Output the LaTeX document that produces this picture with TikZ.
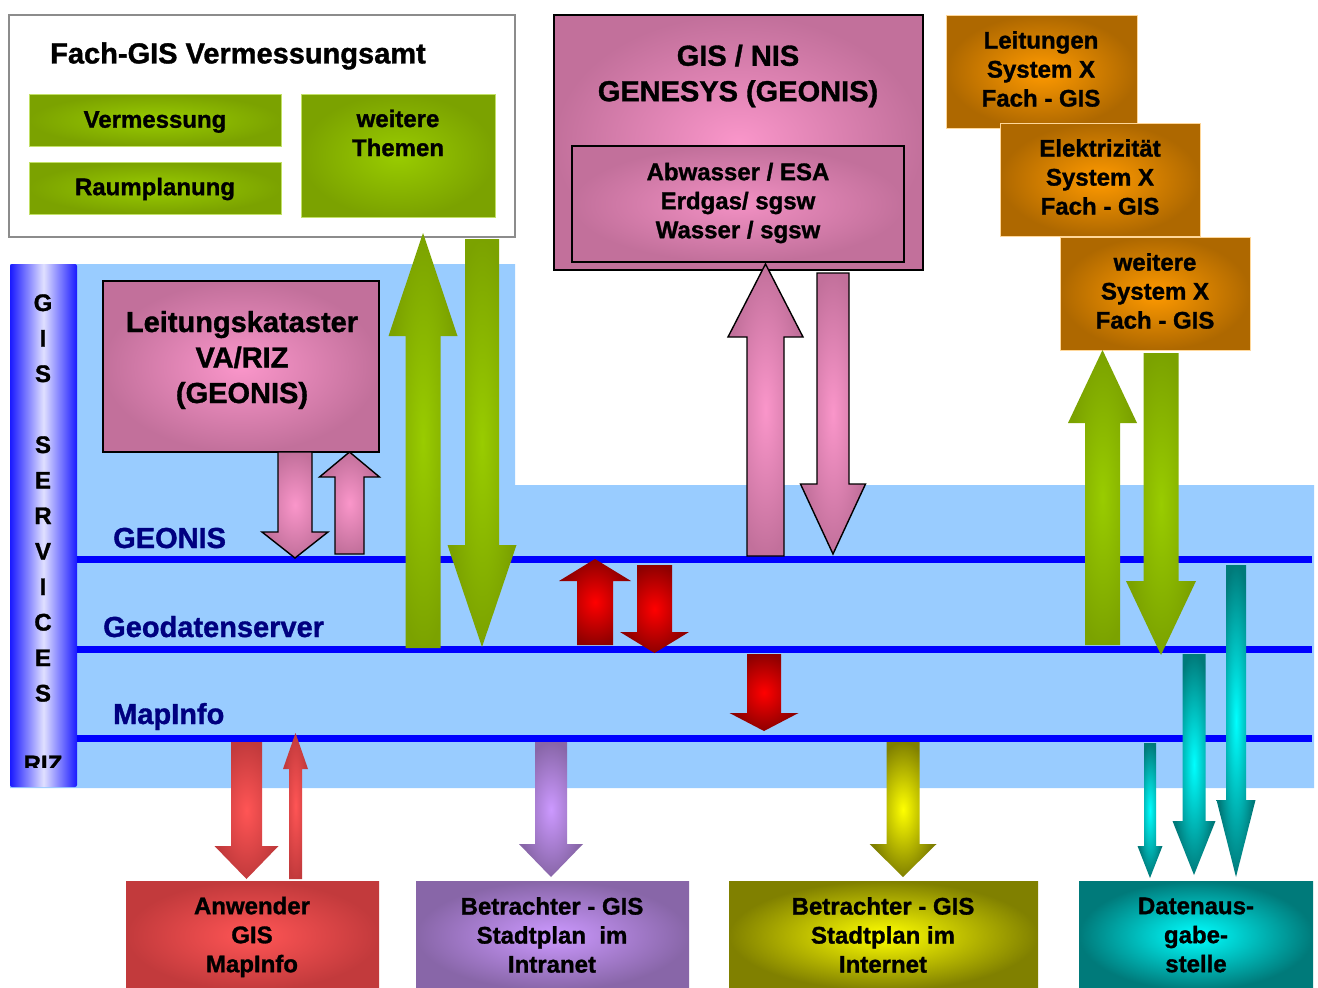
\documentclass[tikz,border=0pt]{standalone}
\usepackage{fontspec}
\setmainfont{Liberation Sans}[BoldFeatures={FakeBold=1.2}]
\definecolor{lblue}{HTML}{99CCFF}
\definecolor{lineblue}{HTML}{0000FF}
\definecolor{navy}{HTML}{000080}
\definecolor{grnout}{HTML}{7BA200}
\definecolor{grnin}{HTML}{99CC00}
\definecolor{pinkout}{HTML}{C2709B}
\definecolor{pinkin}{HTML}{FA96CA}
\definecolor{orout}{HTML}{AE6800}
\definecolor{orin}{HTML}{FF9A00}
\definecolor{redout}{HTML}{8E0000}
\definecolor{redin}{HTML}{FF0000}
\definecolor{lredout}{HTML}{C23A3C}
\definecolor{lredin}{HTML}{FF5555}
\definecolor{purout}{HTML}{8866A8}
\definecolor{purin}{HTML}{CC99FF}
\definecolor{olout}{HTML}{808000}
\definecolor{olin}{HTML}{FFFF00}
\definecolor{cyout}{HTML}{007A7A}
\definecolor{cyin}{HTML}{00FFFF}
\newcommand{\blockarr}[7]{%
  \path[#1] (#2-#5,#3) -- (#2-#5,#7) -- (#2-#6,#7) -- (#2,#4) -- (#2+#6,#7) -- (#2+#5,#7) -- (#2+#5,#3) -- cycle;}
\tikzset{
  bigtxt/.style={font=\fontsize{29}{35.5}\selectfont\bfseries, align=center, inner sep=0pt},
  smalltxt/.style={font=\fontsize{24}{29}\selectfont\bfseries, align=center, inner sep=0pt},
  navylabel/.style={font=\fontsize{29}{35}\selectfont\bfseries, text=navy, inner sep=0pt, anchor=base west},
  greenbox/.style={inner color=grnin, outer color=grnout, draw=grnin!60!white, line width=0.6pt},
  pinkbox/.style={inner color=pinkin, outer color=pinkout, draw=black, line width=1.6pt},
  orangebox/.style={inner color=orin, outer color=orout, draw=orin!40!white, line width=0.8pt},
  grnarr/.style={inner color=grnin, outer color=grnout},
  pinkarr/.style={inner color=pinkin, outer color=pinkout, draw=black, line width=1.4pt},
  redarr/.style={inner color=redin, outer color=redout},
  lredarr/.style={inner color=lredin, outer color=lredout},
  purarr/.style={inner color=purin, outer color=purout},
  olarr/.style={inner color=olin, outer color=olout},
  cyarr/.style={inner color=cyin, outer color=cyout},
  layerline/.style={draw=lineblue, line width=7pt},
}
\begin{document}
\begin{tikzpicture}[x=1pt,y=-1pt]
\useasboundingbox[fill=white] (0,0) rectangle (1318,988);
% light blue service area
\fill[lblue] (10,264) -- (515,264) -- (515,485) -- (1314,485) -- (1314,788) -- (10,788) -- cycle;
% GIS services bar
\path[left color=blue!90!white, right color=blue!90!white, middle color=blue!12!white, rounded corners=2pt]
  (10,264) rectangle (77,787);
\node[smalltxt, font=\fontsize{24}{35.5}\selectfont\bfseries] (gisserv) at (43,498)
  {G\\I\\S\\[35.5pt]S\\E\\R\\V\\I\\C\\E\\S};
\begin{scope}
  \clip (10,740) rectangle (77,767);
  \node[smalltxt] (riz) at (43,764) {RIZ};
\end{scope}
% layer lines
\draw[layerline] (77,559.5) -- (1312,559.5);
\draw[layerline] (77,649) -- (1312,649);
\draw[layerline] (77,738) -- (1312,738);
\node[navylabel] (lgeonis) at (113,548) {GEONIS};
\node[navylabel] (lgeo) at (103,637) {Geodatenserver};
\node[navylabel] (lmap) at (113,724) {MapInfo};
% Fach-GIS Vermessungsamt
\draw[draw=black!45, line width=2pt, fill=white] (9,15) rectangle (515,237);
\node[bigtxt] (fachtitle) at (238,56) {Fach-GIS Vermessungsamt};
\path[greenbox] (29,94) rectangle (281,146);
\node[smalltxt] (verm) at (155,122) {Vermessung};
\path[greenbox] (29,162) rectangle (281,214);
\node[smalltxt] (raum) at (155,189) {Raumplanung};
\path[greenbox] (301,94) rectangle (495,217);
\node[smalltxt] (themen) at (398,133) {weitere\\Themen};
% GIS / NIS
\path[pinkbox] (554,15) rectangle (923,270);
\node[bigtxt] (gisnis) at (738,76) {GIS / NIS\\GENESYS (GEONIS)};
\path[pinkbox, inner color=pinkin!85!pinkout] (572,146) rectangle (904,262);
\node[smalltxt] (abw) at (738,203) {Abwasser / ESA\\Erdgas/ sgsw\\Wasser / sgsw};
% orange boxes
\path[orangebox] (946,15) rectangle (1137,128);
\node[smalltxt] (ltg) at (1041,69) {Leitungen\\System X\\Fach - GIS};
\path[orangebox] (1000,123) rectangle (1200,236);
\node[smalltxt] (elek) at (1100,177) {Elektrizität\\System X\\Fach - GIS};
\path[orangebox] (1060,237) rectangle (1250,350);
\node[smalltxt] (weit) at (1155,291) {weitere\\System X\\Fach - GIS};
% Leitungskataster
\path[pinkbox] (103,281) rectangle (379,452);
\node[bigtxt] (lk) at (242,360) {Leitungskataster\\VA/RIZ\\(GEONIS)};
% arrows
\blockarr{grnarr}{423}{648}{233}{17.5}{34.5}{336}
\blockarr{grnarr}{482}{239}{647}{17}{34.5}{545}
\blockarr{grnarr}{1102.5}{645}{350}{17.5}{34.5}{423}
\blockarr{grnarr}{1161}{353}{655}{17.5}{35}{581}
\blockarr{pinkarr}{295}{452}{558}{17}{33}{532}
\blockarr{pinkarr}{349.5}{554}{452}{14.5}{30}{477}
\blockarr{pinkarr}{765.5}{556}{264}{18.5}{37.5}{337}
\blockarr{pinkarr}{833}{273}{554}{16}{32.5}{484}
\blockarr{redarr}{595}{645}{559}{18}{36}{581}
\blockarr{redarr}{654.5}{565}{653}{17.5}{34.5}{632}
\blockarr{redarr}{764}{654}{731}{17}{34.5}{713}
\blockarr{lredarr}{246.5}{742}{879}{15.5}{32}{846}
\blockarr{lredarr}{295.5}{879}{733}{6.5}{12.5}{769}
\blockarr{purarr}{551}{742}{877}{16}{32}{844}
\blockarr{olarr}{903}{742}{877}{16.5}{33.5}{844}
\blockarr{cyarr}{1150}{743}{878}{6}{12.5}{846}
\blockarr{cyarr}{1194}{654}{875}{11.5}{21.5}{821}
\blockarr{cyarr}{1236}{565}{877}{10}{19.5}{800}
% bottom boxes
\path[inner color=lredin, outer color=lredout] (126,881) rectangle (379,990);
\node[smalltxt] (anw) at (252,937) {Anwender\\GIS\\MapInfo};
\path[inner color=purin, outer color=purout] (416,881) rectangle (689,990);
\node[smalltxt] (intra) at (552,935) {Betrachter - GIS\\Stadtplan\ \ im\\Intranet};
\path[inner color=olin, outer color=olout] (729,881) rectangle (1038,990);
\node[smalltxt] (inter) at (883,935) {Betrachter - GIS\\Stadtplan im\\Internet};
\path[inner color=cyin, outer color=cyout] (1079,881) rectangle (1313,990);
\node[smalltxt] (daten) at (1196,935) {Datenaus-\\gabe-\\stelle};
\end{tikzpicture}
\end{document}
